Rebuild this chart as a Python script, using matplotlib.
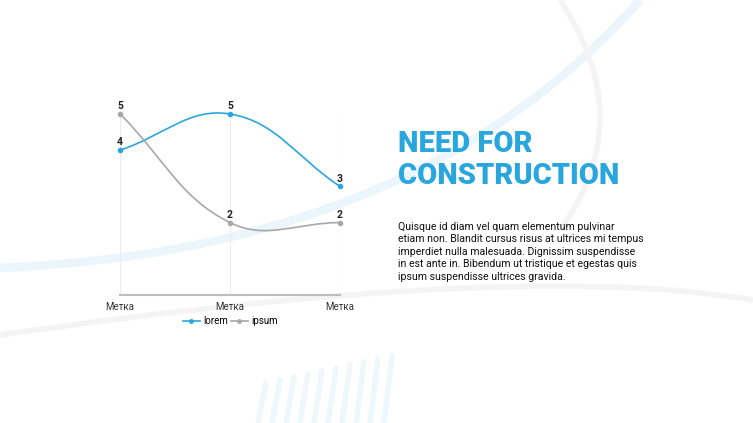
import numpy as np
import matplotlib
matplotlib.use("Agg")
import matplotlib.pyplot as plt
from matplotlib.path import Path
from matplotlib.patches import PathPatch
from matplotlib.lines import Line2D

categories = ["Метка", "Метка", "Метка"]
lorem = [4, 5, 3]
ipsum = [5, 2, 2]

BLUE = "#2aa6df"
GRAY = "#a8a8a8"

def bezier_path(y, tension=0.4, xscale=1.0, yscale=0.33):
    pts = np.column_stack([np.arange(len(y), dtype=float), np.asarray(y, float)])
    n = len(pts); cps = []
    for i in range(n):
        prev = pts[max(i - 1, 0)]; cur = pts[i]; nxt = pts[min(i + 1, n - 1)]
        s = np.array([xscale, yscale])
        d01 = np.linalg.norm((cur - prev) * s); d12 = np.linalg.norm((nxt - cur) * s)
        tot = d01 + d12
        fa = d01 / tot if tot else 0; fb = d12 / tot if tot else 0
        cps.append((cur - tension * fa * (nxt - prev), cur + tension * fb * (nxt - prev)))
    verts = [pts[0]]; codes = [Path.MOVETO]
    for i in range(n - 1):
        verts += [cps[i][1], cps[i + 1][0], pts[i + 1]]; codes += [Path.CURVE4] * 3
    return Path(verts, codes)

fig = plt.figure(figsize=(7.53, 4.23), dpi=100)
bg = fig.add_axes([0, 0, 1, 1]); bg.set_xlim(0, 753); bg.set_ylim(423, 0); bg.axis("off")
def curve(p0, c, p1, col, lw):
    bg.add_patch(PathPatch(Path([p0, c, p1], [Path.MOVETO, Path.CURVE3, Path.CURVE3]),
                           fill=False, edgecolor=col, lw=lw))
curve((0, 268), (420, 250), (640, 0), "#eaf5fc", 6)
curve((0, 335), (520, 260), (753, 300), "#f4f4f4", 4)
curve((560, 0), (640, 120), (560, 230), "#f4f4f4", 4)
for k in range(10):
    x0 = 258 + k * 14
    bg.plot([x0, x0 + 8], [423, 423 - 40 - k * 3], color="#eef7fc", lw=4, solid_capstyle="round")

ax = fig.add_axes([120 / 753, 1 - 295 / 423, 220 / 753, 181 / 423])
x = np.arange(len(categories))
for vals, c in [(lorem, BLUE), (ipsum, GRAY)]:
    ax.add_patch(PathPatch(bezier_path(vals), fill=False, edgecolor=c, lw=1.2, zorder=3, clip_on=False))
    ax.plot(x, vals, "o", color=c, ms=3, zorder=4, clip_on=False)
    for xi, v in zip(x, vals):
        ax.text(xi, v + 0.08, str(v), ha="center", va="bottom", fontsize=7.5,
                fontweight="bold", color="#222222", family="Roboto", clip_on=False)
ax.set_xlim(0, 2); ax.set_ylim(0, 5)
for xi in x:
    ax.axvline(xi, color="#ececec", lw=0.8, zorder=1)
for s in ["top", "right", "left"]:
    ax.spines[s].set_visible(False)
ax.spines["bottom"].set_color("#bdbdbd"); ax.spines["bottom"].set_linewidth(1.5)
ax.set_yticks([])
ax.set_xticks(x); ax.set_xticklabels(categories, fontsize=7, family="Roboto", color="#333333")
ax.tick_params(axis="x", length=0, pad=5)
ax.patch.set_alpha(0)

h = [Line2D([], [], color=BLUE, marker="o", ms=2.5, lw=1.2), Line2D([], [], color=GRAY, marker="o", ms=2.5, lw=1.2)]
fig.legend(h, ["lorem", "ipsum"], loc="center", bbox_to_anchor=(230 / 753, 1 - 321 / 423), ncol=2,
           frameon=False, handlelength=1.8, handletextpad=0.3, columnspacing=0.3,
           prop={"family": "Roboto", "size": 7})

fig.text(398 / 753, 1 - 160 / 423, "NEED FOR\nCONSTRUCTION", color=BLUE, fontsize=21,
         fontweight="black", family="Roboto", va="center", ha="left", linespacing=1.15)
body = ("Quisque id diam vel quam elementum pulvinar\netiam non. Blandit cursus risus at ultrices mi tempus\n"
        "imperdiet nulla malesuada. Dignissim suspendisse\nin est ante in. Bibendum ut tristique et egestas quis\n"
        "ipsum suspendisse ultrices gravida.")
fig.text(398 / 753, 1 - 222 / 423, body, fontsize=7.6, family="Roboto", color="#111111",
         va="top", ha="left", linespacing=1.3)
fig.savefig("out.png", dpi=100)
